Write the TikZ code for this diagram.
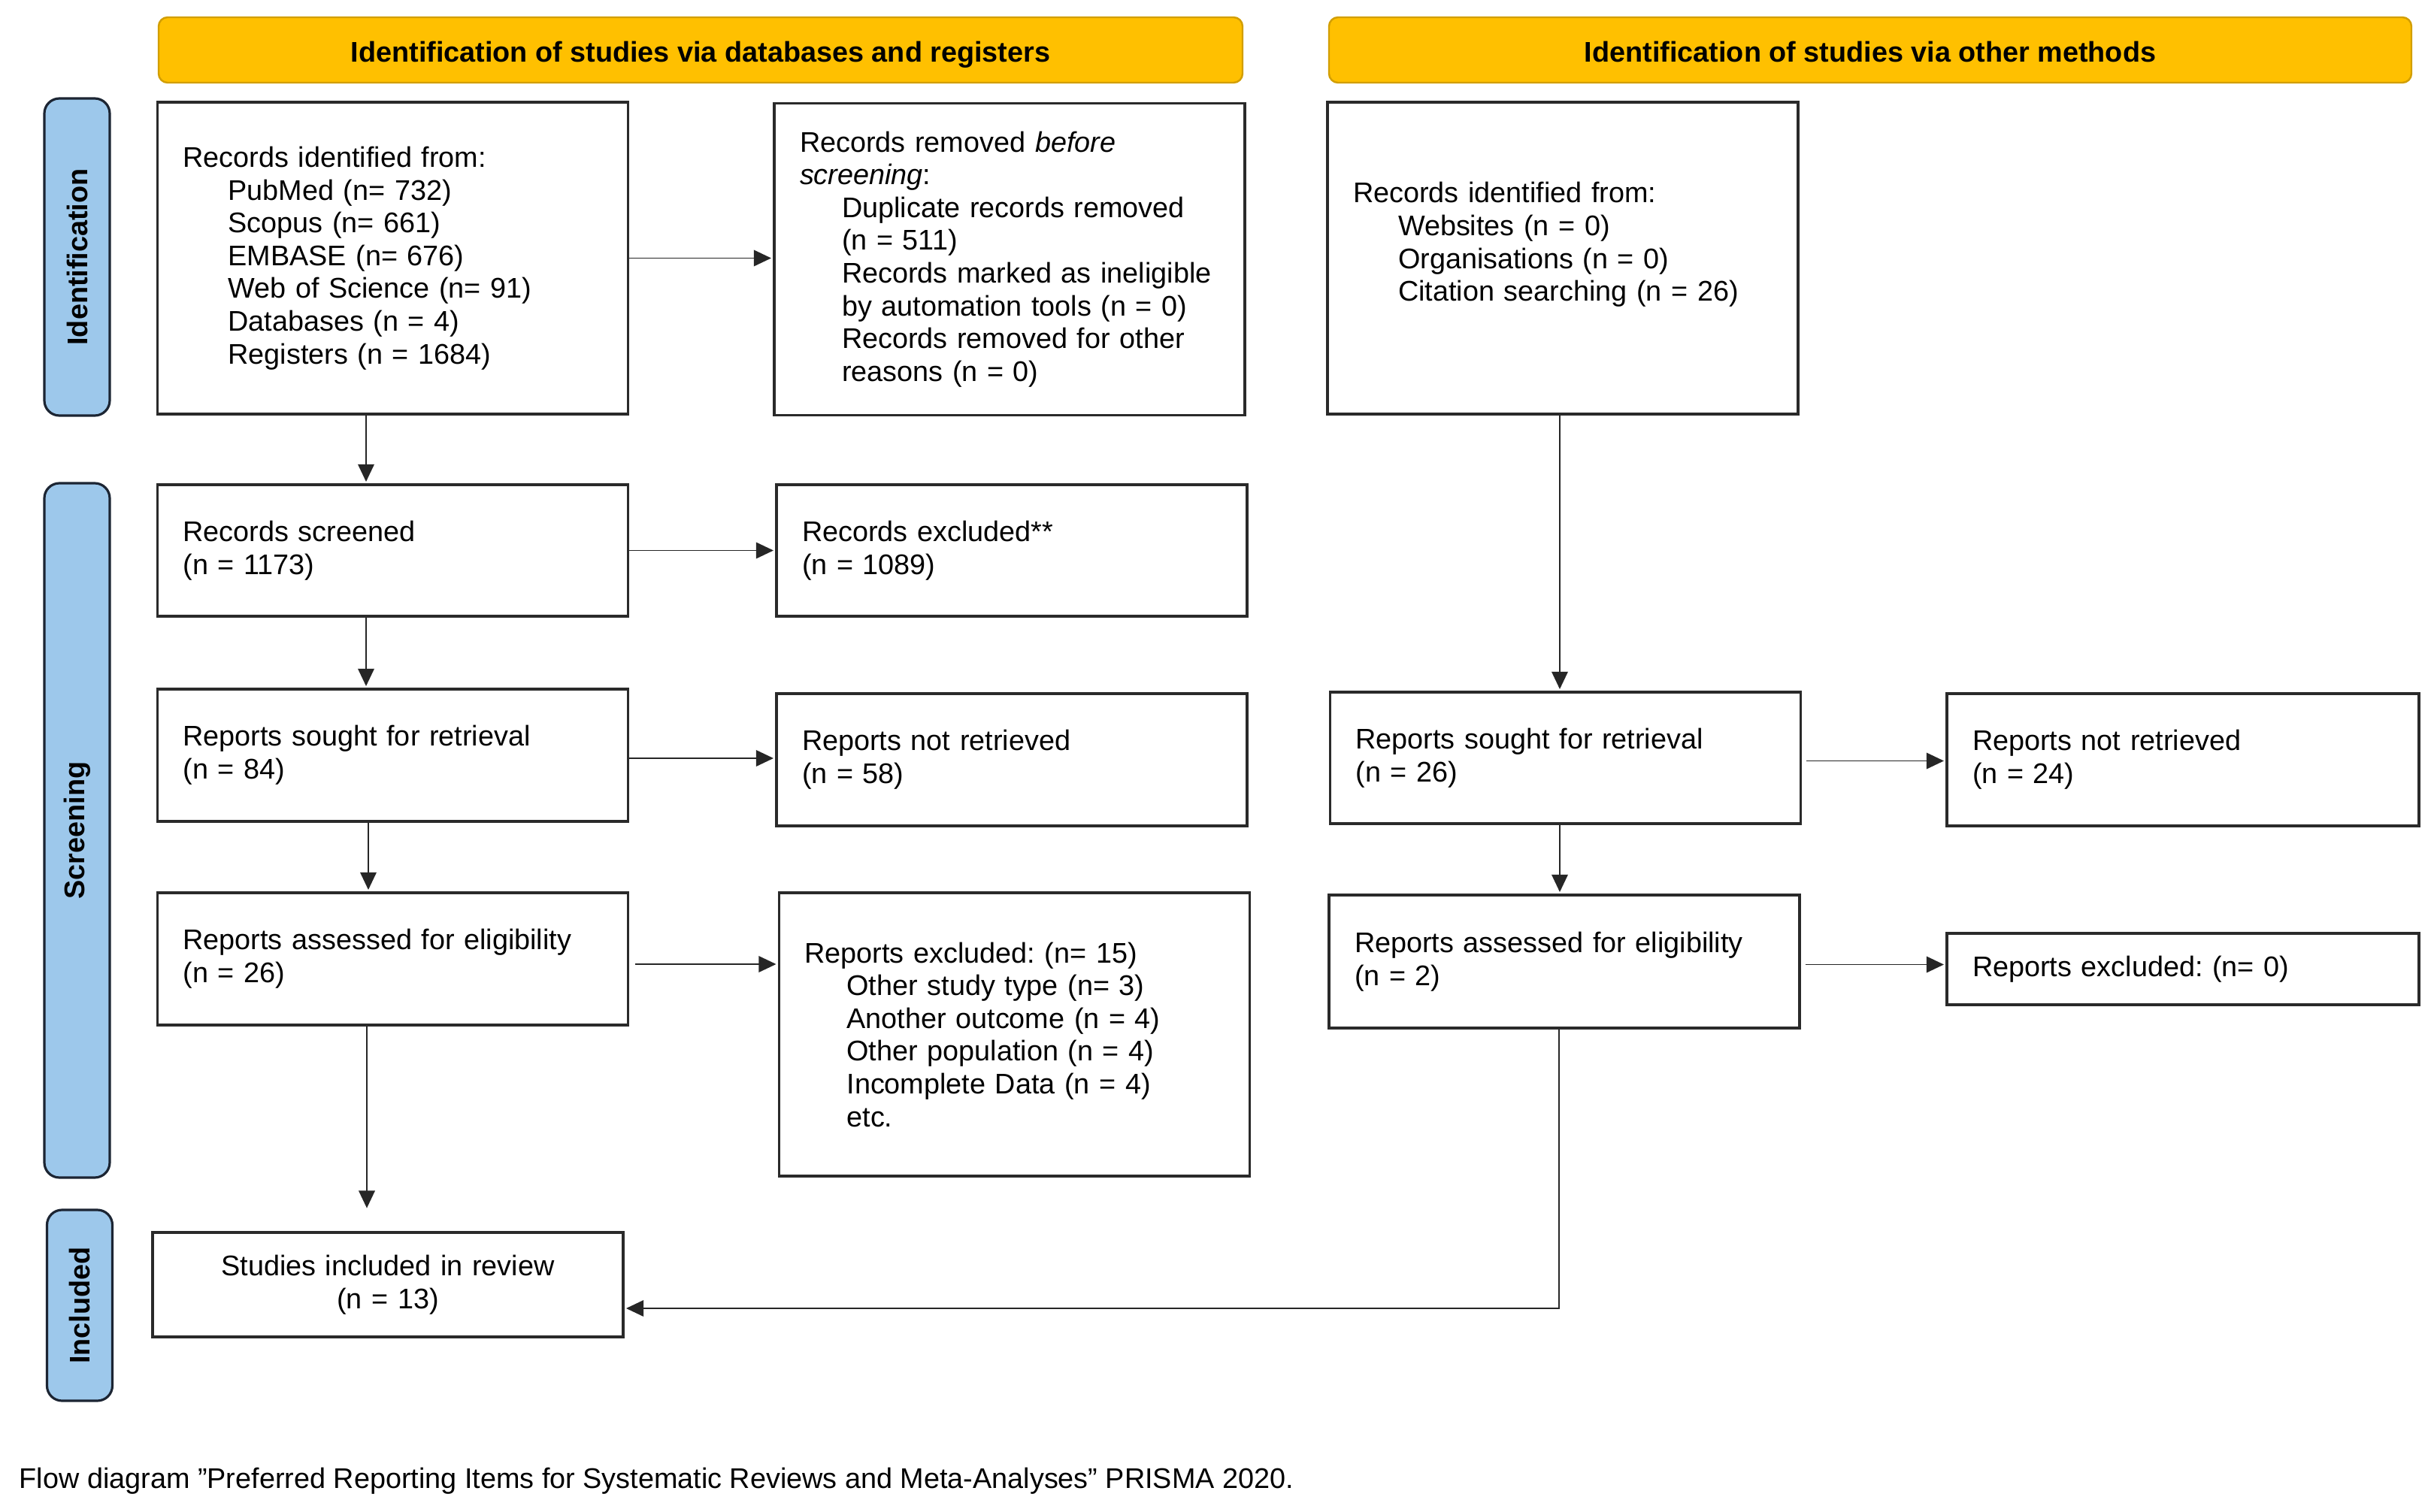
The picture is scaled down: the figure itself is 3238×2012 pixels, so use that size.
\documentclass[tikz,border=0pt]{standalone}
\usepackage{fontspec}
\setmainfont{Liberation Sans}
\usetikzlibrary{arrows.meta}
\frenchspacing
\definecolor{hdr}{HTML}{FFC000}
\definecolor{hdrline}{HTML}{D29E00}
\definecolor{side}{HTML}{9DC8EB}
\definecolor{sideline}{HTML}{1C2533}
\definecolor{boxline}{HTML}{2A2A2A}
\newcommand{\bodyfont}{\fontsize{9.45pt}{10.9pt}\selectfont}
\newcommand{\ind}{\hspace*{15pt}}
\tikzset{
  stdbox/.style={draw=boxline, line width=0.8pt, fill=white, rectangle,
    inner xsep=8.5pt, inner ysep=0pt, align=left, text width=139.5pt,
    font=\bodyfont, minimum height=#1},
  hdrbox/.style={draw=hdrline, line width=0.6pt, fill=hdr, rounded corners=3pt,
    minimum width=#1, minimum height=21.75pt, inner sep=0pt,
    text height=9.4pt, text depth=1.6pt,
    font=\bodyfont\bfseries, align=center},
  sidebox/.style={draw=sideline, line width=0.8pt, fill=side, rounded corners=5pt,
    rotate=90, minimum width=#1, minimum height=21.75pt, inner sep=0pt,
    font=\bodyfont\bfseries},
  arr/.style={draw=black!85, line width=0.45pt, -{Triangle[length=5.8pt,width=5.4pt]}, shorten >=0.6pt}
}
\begin{document}
\begin{tikzpicture}[x=0.25pt,y=-0.25pt]
\useasboundingbox (0,0) rectangle (3238,2012);
% headers
\node[hdrbox=360.5pt] (h1) at (932,66.5) {Identification of studies via databases and registers};
\node[hdrbox=360pt] (h2) at (2488,66.5) {Identification of studies via other methods};
% side labels
\node[sidebox=105.5pt] (sid) at (102.5,342) {Identification};
\node[sidebox=231pt] (sscr) at (102.5,1105) {Screening};
\node[sidebox=63.5pt] (sinc) at (106,1737) {Included};
% left column
\node[stdbox=103.75pt] (b1) at (522.5,343.5) {Records identified from:\\
\ind PubMed (n= 732)\\
\ind Scopus (n= 661)\\
\ind EMBASE (n= 676)\\
\ind Web of Science (n= 91)\\
\ind Databases (n = 4)\\
\ind Registers (n = 1684)};
\node[stdbox=43.75pt] (scr) at (522.5,732.5) {Records screened\\(n = 1173)};
\node[stdbox=44pt] (sou) at (522.5,1005) {Reports sought for retrieval\\(n = 84)};
\node[stdbox=44pt] (ass) at (522.5,1276) {Reports assessed for eligibility\\(n = 26)};
\node[stdbox=34.75pt, align=center] (inc) at (516,1709.5) {Studies included in review\\(n = 13)};
% middle column
\node[stdbox=103.75pt] (b2) at (1343,345) {Records removed \textit{before}\\
\textit{screening}:\\
\hspace*{14pt}Duplicate records removed\\
\hspace*{14pt}(n = 511)\\
\hspace*{14pt}Records marked as ineligible\\
\hspace*{14pt}by automation tools (n = 0)\\
\hspace*{14pt}Records removed for other\\
\hspace*{14pt}reasons (n = 0)};
\node[stdbox=43.75pt] (exc) at (1346,732.5) {Records excluded**\\(n = 1089)};
\node[stdbox=44pt] (nre) at (1346,1011) {Reports not retrieved\\(n = 58)};
\node[stdbox=94.25pt] (ex15) at (1349.5,1376.5) {Reports excluded: (n= 15)\\
\hspace*{14pt}Other study type (n= 3)\\
\hspace*{14pt}Another outcome (n = 4)\\
\hspace*{14pt}Other population (n = 4)\\
\hspace*{14pt}Incomplete Data (n = 4)\\
\hspace*{14pt}etc.};
% right columns
\node[stdbox=103.75pt] (b3) at (2079,343.5) {Records identified from:\\
\ind Websites (n = 0)\\
\ind Organisations (n = 0)\\
\ind Citation searching (n = 26)\\ \mbox{}};
\node[stdbox=43.75pt] (rsou) at (2082.5,1008.5) {Reports sought for retrieval\\(n = 26)};
\node[stdbox=44.25pt] (rass) at (2081,1279.5) {Reports assessed for eligibility\\(n = 2)};
\node[stdbox=44pt, text width=140pt] (rnre) at (2904,1011) {Reports not retrieved\\(n = 24)};
\node[stdbox=23.75pt, text width=140pt] (rex0) at (2904,1289.5) {Reports excluded: (n= 0)};
% footer
\node[anchor=base west, inner sep=0pt, font=\bodyfont] (foot) at (25,1980) {Flow diagram ”Preferred Reporting Items for Systematic Reviews and Meta-Analyses” PRISMA 2020.};
% connectors
\coordinate (lc) at (487,0);
\coordinate (lc2) at (490,0);
\coordinate (incarr) at (488,1610);
\coordinate (rc) at (2075,0);
\coordinate (turn) at (2074,1741);
\draw[arr] (b1.south -| lc) -- (scr.north -| lc);
\draw[arr] (scr.south -| lc) -- (sou.north -| lc);
\draw[arr] (sou.south -| lc2) -- (ass.north -| lc2);
\draw[arr] (ass.south -| incarr) -- (incarr);
\draw[arr] (b1.east) -- (b1.east -| b2.west);
\draw[arr] (scr.east) -- (scr.east -| exc.west);
\draw[arr] ([yshift=-1pt]sou.east) -- ([yshift=-1pt]sou.east -| nre.west);
\draw[arr, shorten <=2pt] ([yshift=-1.75pt]ass.east) -- ([yshift=-1.75pt]ass.east -| ex15.west);
\draw[arr] (b3.south -| rc) -- (rsou.north -| rc);
\draw[arr] (rsou.south -| rc) -- (rass.north -| rc);
\draw[arr, shorten <=1.5pt] ([yshift=-1pt]rsou.east) -- ([yshift=-1pt]rsou.east -| rnre.west);
\draw[arr, shorten <=1.5pt] ([yshift=-1pt]rass.east) -- ([yshift=-1pt]rass.east -| rex0.west);
\draw[arr] (rass.south -| turn) -- (turn) -- (turn -| inc.east);
\end{tikzpicture}
\end{document}
